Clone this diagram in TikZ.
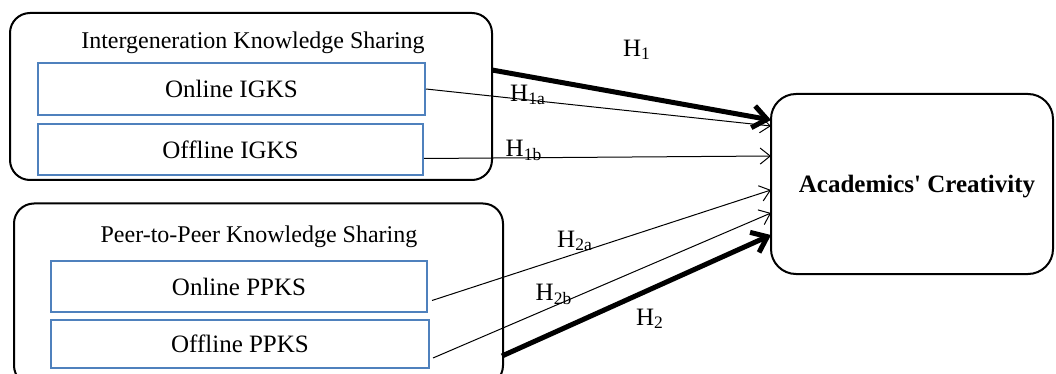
\documentclass[tikz,border=0pt]{standalone}
\usepackage{fontspec}
\setmainfont{Liberation Serif}
\usetikzlibrary{arrows.meta}
\definecolor{boxblue}{RGB}{79,129,189}
\begin{document}
\begin{tikzpicture}[x=0.5pt,y=-0.5pt,font=\fontsize{12.5}{15}\selectfont,
    groupbox/.style={draw, line width=1pt, rounded corners=10pt},
    itembox/.style={draw=boxblue, line width=1pt, inner sep=0pt},
    thinarrow/.style={line width=0.5pt, -{Straight Barb[length=5pt,width=8pt]}},
    thickarrow/.style={line width=2.5pt, -{Straight Barb[length=7pt,width=11pt]}},
    hlabel/.style={inner sep=0pt}]
        \useasboundingbox (0,0) rectangle (1056,374);
        % Groups %
        \node [groupbox, minimum width=241pt, minimum height=83.5pt] (igks) at (251,96.5) {};
        \node (igkstitle) at (253,43) {\fontsize{12}{14}\selectfont Intergeneration Knowledge Sharing};
        \node [itembox, minimum width=193.5pt, minimum height=26pt] (onigks) at (231.5,89) {Online IGKS};
        \node [itembox, minimum width=192.5pt, minimum height=25.5pt] (offigks) at (230.5,149.5) {Offline IGKS};
        \node [groupbox, minimum width=244.5pt, minimum height=91pt] (ppks) at (258.5,294.5) {};
        \node (ppkstitle) at (259,237) {\fontsize{12}{14}\selectfont Peer-to-Peer Knowledge Sharing};
        \node [itembox, minimum width=188pt, minimum height=25.5pt] (onppks) at (239,286.5) {Online PPKS};
        \node [itembox, minimum width=189pt, minimum height=24pt] (offppks) at (240,344) {Offline PPKS};
        % Outcome %
        \node [groupbox, rounded corners=12.5pt, minimum width=141pt, minimum height=90pt] (ac) at (912,184) {};
        \node (actext) at (917,187) {\bfseries Academics\textquotesingle\ Creativity};
        % Arrow ends %
        \coordinate (h1s) at (492,70);
        \coordinate (h2s) at (502,356);
        \coordinate (a1) at (771,120);
        \coordinate (a1a) at (771,126);
        \coordinate (a1b) at (771,156);
        \coordinate (a2a) at (771,190);
        \coordinate (a2b) at (771,213);
        \coordinate (a2) at (771,235);
        % Arrows %
        \draw [thickarrow] (h1s) -- (a1);
        \draw [thinarrow] (onigks.east) -- (a1a);
        \draw [thinarrow] ([yshift=-4.5pt]offigks.east) -- (a1b);
        \draw [thinarrow] ([xshift=2pt,yshift=-7pt]onppks.east) -- (a2a);
        \draw [thinarrow] ([xshift=1.5pt,yshift=-7pt]offppks.east) -- (a2b);
        \draw [thickarrow] (h2s) -- (a2);
        % Labels %
        \node [hlabel] (lh1) at (637,50) {H\textsubscript{1}};
        \node [hlabel] (lh1a) at (528,95) {H\textsubscript{1a}};
        \node [hlabel] (lh1b) at (524,150) {H\textsubscript{1b}};
        \node [hlabel] (lh2a) at (575,241) {H\textsubscript{2a}};
        \node [hlabel] (lh2b) at (554,294) {H\textsubscript{2b}};
        \node [hlabel] (lh2) at (650,319) {H\textsubscript{2}};
      \end{tikzpicture}
\end{document}
